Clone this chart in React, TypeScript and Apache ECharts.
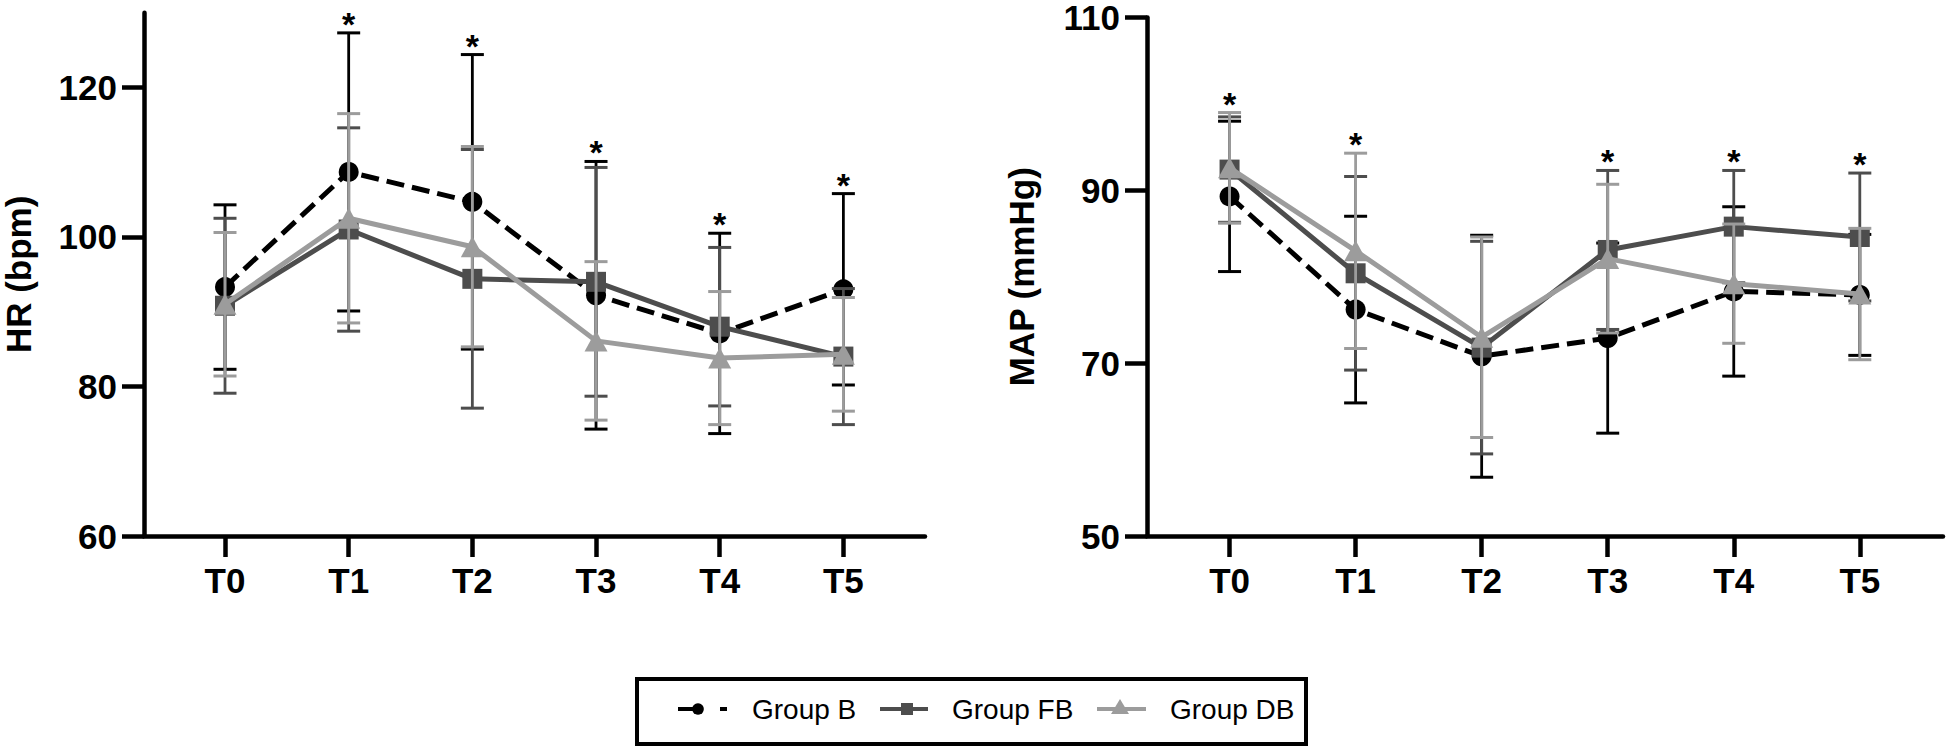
import React, { useEffect, useRef } from "react";
import * as echarts from "echarts";

// ---------- data ----------
const timePoints = ["T0", "T1", "T2", "T3", "T4", "T5"];
const groupNames = ["Group B", "Group FB", "Group DB"];

// Heart rate (bpm): mean and SD
const hrMeanB = [93.3, 108.7, 104.7, 92.2, 87.1, 93.0];
const hrSdB = [11.0, 18.6, 19.7, 17.9, 13.4, 12.8];
const hrMeanFB = [90.8, 101.0, 94.4, 94.0, 88.0, 84.0];
const hrSdFB = [11.7, 13.6, 17.3, 15.3, 10.6, 9.1];
const hrMeanDB = [91.0, 102.5, 98.7, 86.1, 83.8, 84.3];
const hrSdDB = [9.6, 14.0, 13.4, 10.6, 8.9, 7.6];
const hrSignificant = [false, true, true, true, true, true];

// Mean arterial pressure (mmHg): mean and SD
const mapMeanB = [89.3, 76.2, 70.8, 72.9, 78.3, 77.9];
const mapSdB = [8.7, 10.8, 14.0, 11.0, 9.8, 7.0];
const mapMeanFB = [92.4, 80.4, 71.8, 83.1, 85.8, 84.6];
const mapSdFB = [6.1, 11.2, 12.3, 9.2, 6.5, 7.4];
const mapMeanDB = [92.6, 83.0, 73.0, 82.1, 79.2, 78.0];
const mapSdDB = [6.4, 11.3, 11.6, 8.6, 6.9, 7.6];
const mapSignificant = [true, true, false, true, true, true];

const hrTicks = [60, 80, 100, 120];
const mapTicks = [50, 70, 90, 110];

// ---------- styles ----------
const FONT = "'Liberation Sans', Arial, Helvetica, sans-serif";
const COLORS = ["#000000", "#4d4d4d", "#9c9c9c"];
const SYMBOLS = ["circle", "rect", "triangle"];
const SYMBOL_SIZES: any[] = [20, 20, [23, 21]];

function buildChartSeries(
  axisIndex: number,
  means: number[][],
  sds: number[][],
  sig: boolean[]
) {
  const series: any[] = [];
  means.forEach((m, g) => {
    const color = COLORS[g];
    series.push({
      type: "custom",
      name: groupNames[g] + " SD",
      xAxisIndex: axisIndex,
      yAxisIndex: axisIndex,
      z: 2 + g * 2,
      silent: true,
      encode: { x: 0, y: [1, 2] },
      data: m.map((v, i) => [i, v - sds[g][i], v + sds[g][i]]),
      renderItem: (params: any, api: any) => {
        const x = api.value(0);
        const pLo = api.coord([x, api.value(1)]);
        const pHi = api.coord([x, api.value(2)]);
        const hw = 11.5;
        return {
          type: "group",
          children: [
            {
              type: "line",
              shape: { x1: pLo[0], y1: pLo[1], x2: pHi[0], y2: pHi[1] },
              style: { stroke: color, lineWidth: 2.8 },
            },
            {
              type: "line",
              shape: { x1: pHi[0] - hw, y1: pHi[1], x2: pHi[0] + hw, y2: pHi[1] },
              style: { stroke: color, lineWidth: 3 },
            },
            {
              type: "line",
              shape: { x1: pLo[0] - hw, y1: pLo[1], x2: pLo[0] + hw, y2: pLo[1] },
              style: { stroke: color, lineWidth: 3 },
            },
          ],
        };
      },
    });
    series.push({
      type: "line",
      name: groupNames[g],
      xAxisIndex: axisIndex,
      yAxisIndex: axisIndex,
      z: 3 + g * 2,
      data: m.map((v, i) => [i, v]),
      symbol: SYMBOLS[g],
      symbolSize: SYMBOL_SIZES[g],
      showSymbol: true,
      lineStyle: {
        color,
        width: 5,
        type: g === 0 ? [18, 8] : "solid",
      },
      itemStyle: { color, borderWidth: 0 },
      emphasis: { disabled: true },
    });
  });
  // significance markers above the highest error bar
  const starData: number[][] = [];
  sig.forEach((s, i) => {
    if (!s) return;
    let top = -Infinity;
    means.forEach((m, g) => {
      top = Math.max(top, m[i] + sds[g][i]);
    });
    starData.push([i, top]);
  });
  series.push({
    type: "custom",
    name: "significance",
    xAxisIndex: axisIndex,
    yAxisIndex: axisIndex,
    z: 10,
    silent: true,
    data: starData,
    renderItem: (params: any, api: any) => {
      const p = api.coord([api.value(0), api.value(1)]);
      return {
        type: "text",
        x: p[0],
        y: p[1] - 9,
        style: {
          text: "*",
          fill: "#000",
          font: `bold 34px ${FONT}`,
          lineHeight: 24,
          align: "center",
          verticalAlign: "middle",
        },
      };
    },
  });
  return series;
}

function xAxisCfg(gridIndex: number) {
  return {
    type: "value",
    gridIndex,
    min: -0.655,
    max: 5.66,
    splitLine: { show: false },
    axisLine: { show: true, onZero: false, lineStyle: { color: "#000", width: 4.5 } },
    axisTick: {
      show: true,
      customValues: [0, 1, 2, 3, 4, 5],
      length: 21,
      lineStyle: { color: "#000", width: 4.5 },
    },
    axisLabel: {
      customValues: [0, 1, 2, 3, 4, 5],
      formatter: (v: number) => timePoints[Math.round(v)],
      margin: 27,
      color: "#000",
      fontSize: 35,
      fontWeight: "bold",
      fontFamily: FONT,
    },
  };
}

function yAxisCfg(gridIndex: number, min: number, max: number, ticks: number[], name: string) {
  return {
    type: "value",
    gridIndex,
    min,
    max,
    name,
    nameLocation: "middle",
    nameGap: 108,
    nameTextStyle: { color: "#000", fontSize: 35, fontWeight: "bold", fontFamily: FONT },
    splitLine: { show: false },
    axisLine: { show: true, onZero: false, lineStyle: { color: "#000", width: 4.5 } },
    axisTick: {
      show: true,
      customValues: ticks,
      length: 22,
      lineStyle: { color: "#000", width: 4.5 },
    },
    axisLabel: {
      customValues: ticks,
      margin: 27,
      color: "#000",
      fontSize: 35,
      lineHeight: 28,
      fontWeight: "bold",
      fontFamily: FONT,
    },
  };
}

function legendGraphics() {
  const cy = 709;
  const textStyle = (t: string) => ({
    text: t,
    fill: "#000",
    font: `28px ${FONT}`,
    verticalAlign: "middle",
    align: "left",
  });
  return [
    {
      type: "rect",
      shape: { x: 637, y: 679, width: 669, height: 65 },
      style: { fill: "none", stroke: "#000", lineWidth: 4 },
    },
    // Group B
    { type: "line", shape: { x1: 678, y1: cy, x2: 700, y2: cy }, style: { stroke: COLORS[0], lineWidth: 4 } },
    { type: "line", shape: { x1: 720, y1: cy, x2: 727, y2: cy }, style: { stroke: COLORS[0], lineWidth: 4 } },
    { type: "circle", shape: { cx: 698, cy, r: 5.8 }, style: { fill: COLORS[0] } },
    { type: "text", x: 752, y: cy, style: textStyle(groupNames[0]) },
    // Group FB
    { type: "line", shape: { x1: 880, y1: cy, x2: 928, y2: cy }, style: { stroke: COLORS[1], lineWidth: 4 } },
    { type: "rect", shape: { x: 901, y: cy - 6, width: 12, height: 12 }, style: { fill: COLORS[1] } },
    { type: "text", x: 952, y: cy, style: textStyle(groupNames[1]) },
    // Group DB
    { type: "line", shape: { x1: 1097, y1: cy, x2: 1146, y2: cy }, style: { stroke: COLORS[2], lineWidth: 4 } },
    {
      type: "polygon",
      shape: { points: [[1111, cy + 5], [1129, cy + 5], [1120, cy - 10]] },
      style: { fill: COLORS[2] },
    },
    { type: "text", x: 1170, y: cy, style: textStyle(groupNames[2]) },
  ];
}

export default function App() {
  const ref = useRef<HTMLDivElement>(null);

  useEffect(() => {
    if (!ref.current) return;
    const chart = echarts.init(ref.current, undefined, { renderer: "svg" });
    const option: any = {
      animation: false,
      backgroundColor: "#ffffff",
      textStyle: { fontFamily: FONT },
      grid: [
        { left: 141.7, top: 12.7, width: 783.3, height: 523.3, containLabel: false },
        { left: 1147, top: 14.3, width: 796, height: 521.7, containLabel: false },
      ],
      xAxis: [xAxisCfg(0), xAxisCfg(1)],
      yAxis: [
        yAxisCfg(0, 60, 130, hrTicks, "HR (bpm)"),
        yAxisCfg(1, 50, 110, mapTicks, "MAP (mmHg)"),
      ],
      series: [
        ...buildChartSeries(0, [hrMeanB, hrMeanFB, hrMeanDB], [hrSdB, hrSdFB, hrSdDB], hrSignificant),
        ...buildChartSeries(1, [mapMeanB, mapMeanFB, mapMeanDB], [mapSdB, mapSdFB, mapSdDB], mapSignificant),
      ],
      graphic: legendGraphics(),
    };
    chart.setOption(option);
    return () => chart.dispose();
  }, []);

  return (
    <div
      ref={ref}
      style={{ position: "absolute", left: 0, top: 0, width: 1946, height: 747, background: "#fff" }}
    />
  );
}
